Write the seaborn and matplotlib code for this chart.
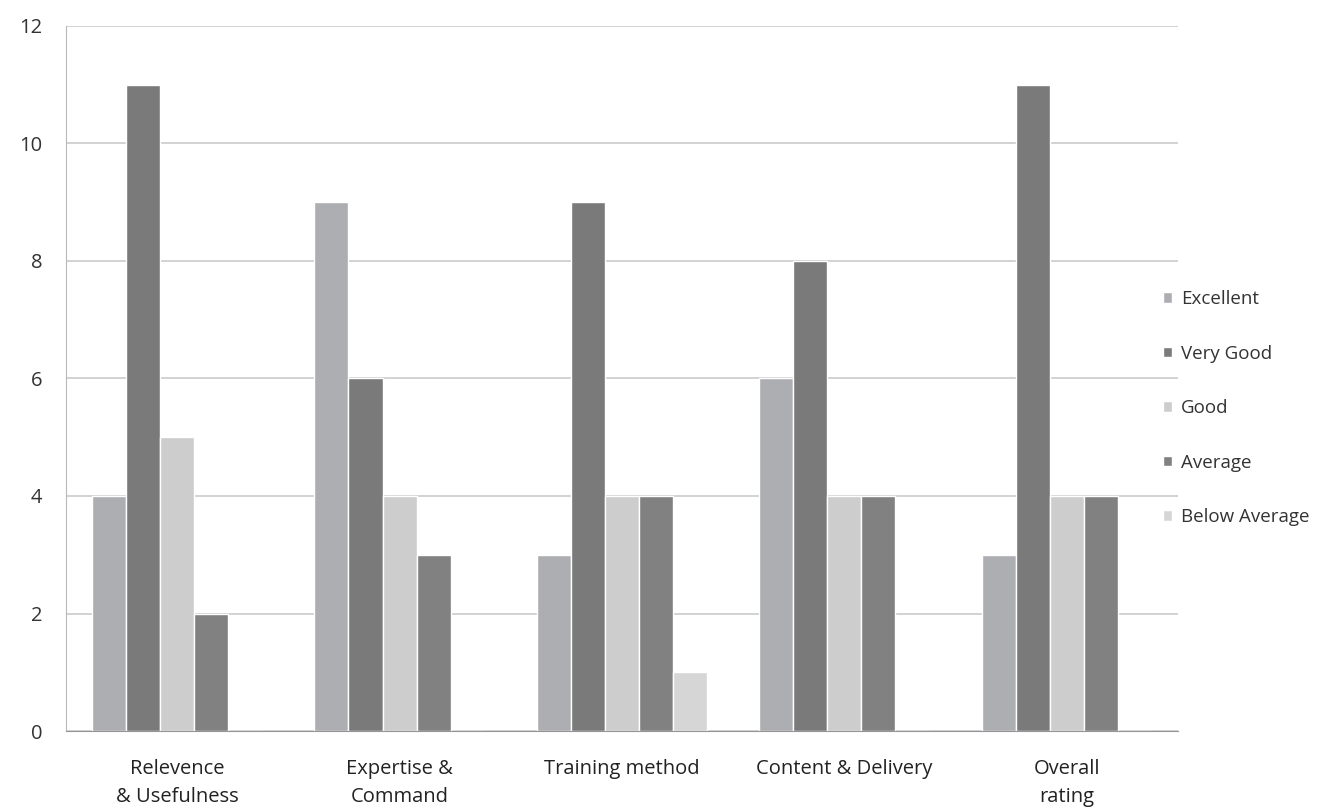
import seaborn as sns
import matplotlib.pyplot as plt
import pandas as pd

categories = ["Relevence\n& Usefulness", "Expertise &\nCommand", "Training method",
              "Content & Delivery", "Overall\nrating"]
series = ["Excellent", "Very Good", "Good", "Average", "Below Average"]
excellent = [4, 9, 3, 6, 3]
very_good = [11, 6, 9, 8, 11]
good = [5, 4, 4, 4, 4]
average = [2, 3, 4, 4, 4]
below_average = [0, 0, 1, 0, 0]

colors = ["#adaeb2", "#7a7a7a", "#cdcdcd", "#818181", "#d6d6d6"]

rows = []
for name, vals in zip(series, [excellent, very_good, good, average, below_average]):
    for cat, v in zip(categories, vals):
        rows.append({"category": cat, "series": name, "value": v})
df = pd.DataFrame(rows)

sns.set_style("white")
plt.rcParams['font.family'] = ['Open Sans', 'DejaVu Sans']

fig = plt.figure(figsize = (13.3, 8.09), dpi = 100)
ax = fig.add_axes([0.0496, 0.0964, 0.836, 0.8715])
sns.barplot(data = df, x = "category", y = "value", hue = "series",
            palette = colors, width = 0.765, ax = ax, saturation = 1)

ax.set_ylim(0, 12)
ax.set_yticks(range(0, 13, 2))
ax.set_xlim(-0.5, 4.5)
ax.yaxis.grid(True, color = "#c6c6c6", linewidth = 1.1)
ax.set_axisbelow(True)
ax.set_xlabel("")
ax.set_ylabel("")
for s in ["top", "right"]:
    ax.spines[s].set_visible(False)
ax.spines["left"].set_color("#b8b8b8")
ax.spines["bottom"].set_color("#959595")
ax.tick_params(axis = "y", labelsize = 14.5, colors = "#333333", length = 6, color = "#c6c6c6", pad = 11)
ax.tick_params(axis = "x", labelsize = 14.5, colors = "#222222", length = 0, pad = 20)
ax.set_xticks(range(5))
ax.set_xticks([i + 0.5 for i in range(-1, 5)], minor = True)
ax.tick_params(axis = "x", which = "minor", length = 5, color = "#959595")
for lbl in ax.get_xticklabels():
    lbl.set_linespacing(1.55)

leg = ax.legend(loc = "center left", bbox_to_anchor = (0.9865, 0.458), frameon = False,
                fontsize = 13.5, handlelength = 0.5, handleheight = 0.5,
                handletextpad = 0.45, labelspacing = 1.95, borderpad = 0, borderaxespad = 0)
for t in leg.get_texts():
    t.set_color("#333333")

fig.savefig("out.png", dpi = 100)
